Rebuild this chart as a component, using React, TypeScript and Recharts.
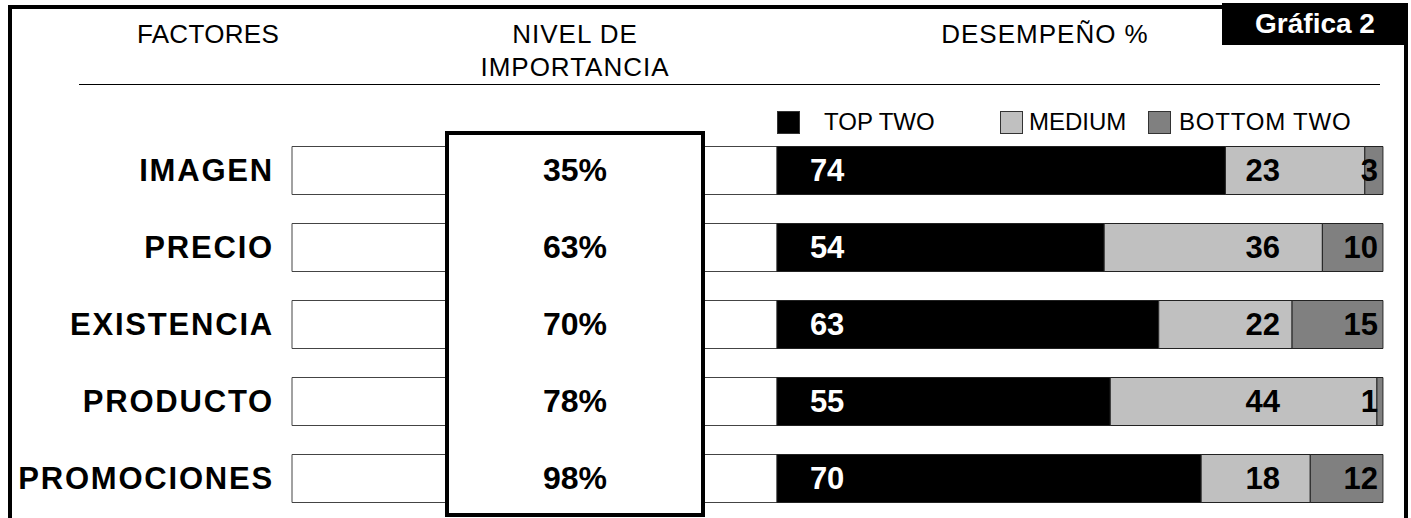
import React from 'react'
import { BarChart, Bar, XAxis, YAxis, LabelList, Legend } from 'recharts'

const categories = ['IMAGEN', 'PRECIO', 'EXISTENCIA', 'PRODUCTO', 'PROMOCIONES']
const importance = [35, 63, 70, 78, 98]
const topTwo = [74, 54, 63, 55, 70]
const medium = [23, 36, 22, 44, 18]
const bottomTwo = [3, 10, 15, 1, 12]
const seriesNames = ['TOP TWO', 'MEDIUM', 'BOTTOM TWO']

const data = categories.map((name, i) => ({
  name,
  top: topTwo[i],
  medium: medium[i],
  bottom: bottomTwo[i],
}))

const FONT = '"Liberation Sans", Arial, Helvetica, sans-serif'

const colors = { top: '#000000', medium: '#c0c0c0', bottom: '#808080' }

// label renderers
function vb(p: any) {
  return p.viewBox && p.viewBox.width !== undefined ? p.viewBox : p
}

function TopLabel(p: any) {
  const { x, y, height } = vb(p)
  return (
    <text x={x + 33} y={y + height / 2} fill="#fff" fontSize={31} fontWeight="bold" fontFamily={FONT}
      textAnchor="start" dominantBaseline="central">
      {p.value}
    </text>
  )
}

function EndLabel(offset: number) {
  return (p: any) => {
    const { x, y, width, height } = vb(p)
    return (
      <text x={x + width - offset} y={y + height / 2} fill="#000" fontSize={31} fontWeight="bold"
        fontFamily={FONT} textAnchor="end" dominantBaseline="central">
        {p.value}
      </text>
    )
  }
}

function LegendContent(props: any) {
  const gaps = [24, 6, 8]
  const widths = [223, 148, 240]
  const items = [...(props.payload || [])].sort(
    (a: any, b: any) => seriesNames.indexOf(a.value) - seriesNames.indexOf(b.value)
  )
  return (
    <div style={{ display: 'flex', fontFamily: FONT, fontSize: 24 }}>
      {items.map((it: any, i: number) => (
        <div key={it.value} style={{ display: 'flex', alignItems: 'center', width: widths[i] }}>
          <span style={{
            display: 'inline-block', width: 23, height: 23, boxSizing: 'border-box',
            background: it.color, border: '1px solid #333', marginRight: gaps[i],
          }} />
          <span style={{ color: '#000', letterSpacing: i === 2 ? 0.8 : 0 }}>{it.value}</span>
        </div>
      ))}
    </div>
  )
}

const header: React.CSSProperties = {
  position: 'absolute', fontFamily: FONT, fontSize: 26, color: '#000', letterSpacing: 0.3,
  textAlign: 'center', lineHeight: '33px', transform: 'translateX(-50%)', whiteSpace: 'nowrap',
}

export default function App() {
  return (
    <div style={{ position: 'absolute', left: 0, top: 0, width: 1411, height: 518, overflow: 'hidden', background: '#fff' }}>
      {/* frame */}
      <div style={{ position: 'absolute', left: 8, top: 5, width: 1400, height: 540, border: '4px solid #000', boxSizing: 'border-box' }} />
      <div style={{ position: 'absolute', left: 1222, top: 3, width: 186, height: 42, background: '#000',
        color: '#fff', fontFamily: FONT, fontWeight: 'bold', fontSize: 28, display: 'flex',
        alignItems: 'center', justifyContent: 'center' }}>
        Gráfica 2
      </div>
      <div style={{ ...header, left: 208, top: 18 }}>FACTORES</div>
      <div style={{ ...header, left: 575, top: 18, letterSpacing: 1 }}>NIVEL DE<br />IMPORTANCIA</div>
      <div style={{ ...header, left: 1045, top: 18, letterSpacing: 1 }}>DESEMPEÑO %</div>
      <div style={{ position: 'absolute', left: 79, top: 84, width: 1301, height: 0, borderTop: '1.5px solid #000' }} />

      <BarChart
        layout="vertical"
        width={1411}
        height={518}
        data={data}
        margin={{ top: 131.5, right: 28, bottom: 1.5, left: 92 }}
        barSize={48}
      >
        <XAxis type="number" domain={[-80, 100]} hide allowDataOverflow />
        <YAxis
          type="category"
          dataKey="name"
          width={200}
          interval={0}
          axisLine={false}
          tickLine={false}
          tickSize={12}
          tickMargin={6}
          tick={{ fontSize: 31, fontWeight: 'bold', fill: '#000', fontFamily: FONT, letterSpacing: 1.8 }}
        />
        <Legend
          layout="horizontal"
          verticalAlign="middle"
          align="center"
          content={<LegendContent />}
          wrapperStyle={{ left: 777, top: 108, width: 620 }}
        />
        <Bar dataKey="top" name={seriesNames[0]} stackId="a" fill={colors.top} stroke="#222" strokeWidth={1}
          background={{ fill: '#fff', stroke: '#444', strokeWidth: 1 }} isAnimationActive={false}>
          <LabelList dataKey="top" content={TopLabel} />
        </Bar>
        <Bar dataKey="medium" name={seriesNames[1]} stackId="a" fill={colors.medium} stroke="#222" strokeWidth={1}
          isAnimationActive={false} />
        <Bar dataKey="bottom" name={seriesNames[2]} stackId="a" fill={colors.bottom} stroke="#222" strokeWidth={1}
          isAnimationActive={false}>
          <LabelList dataKey="medium" content={EndLabel(103)} />
          <LabelList dataKey="bottom" content={EndLabel(5)} />
        </Bar>
      </BarChart>

      {/* importance box */}
      <div style={{ position: 'absolute', left: 445, top: 131, width: 260, height: 386, border: '4px solid #000',
        boxSizing: 'border-box', background: '#fff' }}>
        {importance.map((v, i) => (
          <div key={categories[i]} style={{ position: 'absolute', left: 0, right: 0, top: 35 + i * 77,
            transform: 'translateY(-50%)', textAlign: 'center', fontFamily: FONT, fontWeight: 'bold', fontSize: 32 }}>
            {v}%
          </div>
        ))}
      </div>
    </div>
  )
}
